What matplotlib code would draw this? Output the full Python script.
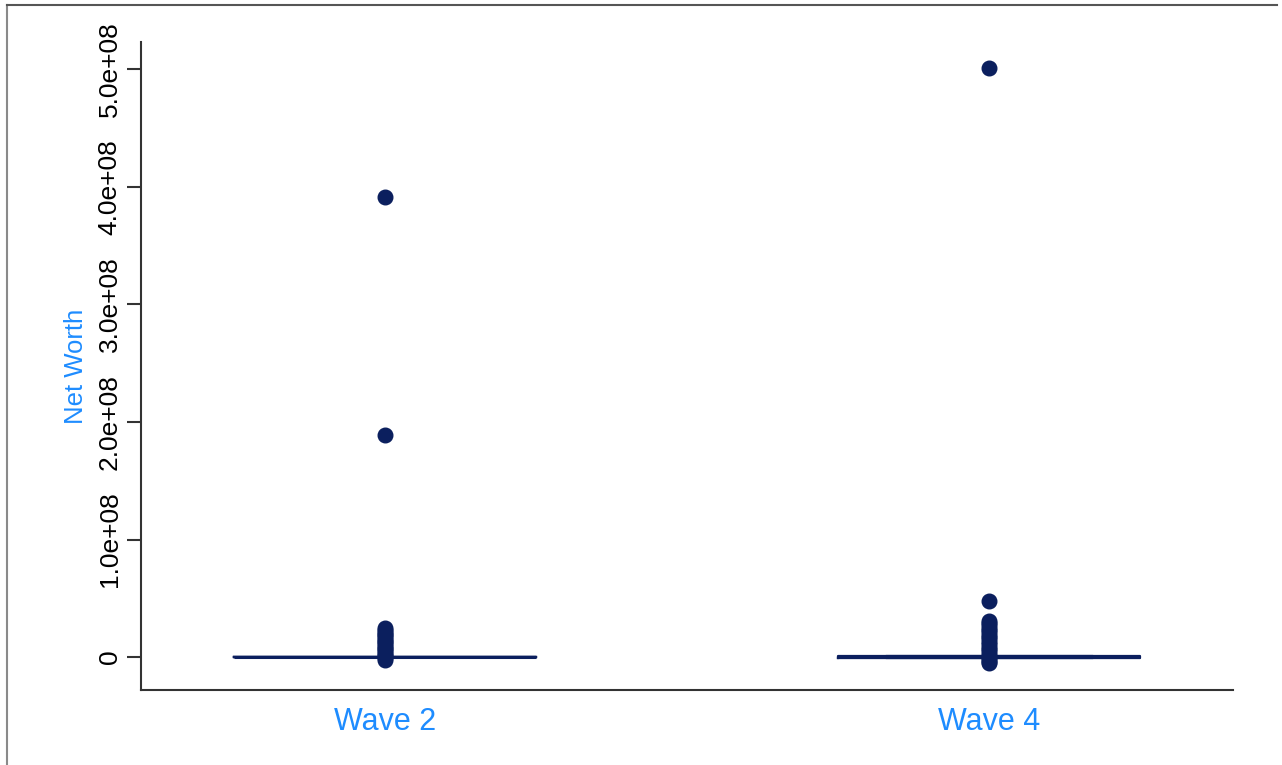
import matplotlib.pyplot as plt
from matplotlib.lines import Line2D

plt.rcParams['font.family'] = ['Liberation Sans', 'DejaVu Sans']

# Net worth box plots by survey wave
waves = ["Wave 2", "Wave 4"]
medians = [0.0, 0.0]
q1 = [-2.0e5, -6.0e5]
q3 = [2.0e5, 6.0e5]
whisker_lo = [-3.0e5, -9.0e5]
whisker_hi = [3.0e5, 9.0e5]

# outside values
outliers_w2 = [3.91e8, 1.885e8,
               2.45e7, 2.3e7, 2.15e7, 2.0e7, 1.85e7, 1.7e7, 1.55e7, 1.4e7,
               1.25e7, 1.1e7, 9.5e6, 8.0e6, 6.5e6, 5.0e6, 3.5e6, 2.0e6,
               1.0e6, -1.0e6, -2.5e6]
outliers_w4 = [5.01e8, 4.75e7,
               3.1e7, 2.9e7, 2.7e7, 2.5e7, 2.3e7, 2.1e7, 1.9e7, 1.7e7,
               1.5e7, 1.3e7, 1.1e7, 9.0e6, 7.0e6, 5.0e6, 3.0e6, 1.0e6,
               -1.0e6, -2.5e6, -4.0e6, -5.0e6]

yticks = [0, 1e8, 2e8, 3e8, 4e8, 5e8]
ytick_labels = ["0", "1.0e+08", "2.0e+08", "3.0e+08", "4.0e+08", "5.0e+08"]

navy = "#0b1f5e"
blue = "#1e8cff"

stats = []
fliers = [outliers_w2, outliers_w4]
for i, name in enumerate(waves):
    stats.append(dict(label=name, med=medians[i], q1=q1[i], q3=q3[i],
                      whislo=whisker_lo[i], whishi=whisker_hi[i],
                      fliers=fliers[i]))

fig = plt.figure(figsize=(12.82, 7.65), dpi=100)
ax = fig.add_axes([0.110, 0.098, 0.852, 0.847])

ax.bxp(stats, positions=[1, 2], widths=0.5, showcaps=True, capwidths=[0.5, 0.34],
       boxprops=dict(color=navy, linewidth=1.6),
       medianprops=dict(color=navy, linewidth=2.2),
       whiskerprops=dict(color=navy, linewidth=1.6),
       capprops=dict(color=navy, linewidth=1.6),
       flierprops=dict(marker='o', markerfacecolor=navy, markeredgecolor=navy,
                       markersize=10.5, linestyle='none'))

ax.set_xlim(0.596, 2.404)
ax.set_ylim(-0.28e8, 5.23e8)

ax.set_yticks(yticks)
ax.set_yticklabels(ytick_labels, rotation=90, va='center', fontsize=19)
ax.tick_params(axis='y', length=10, width=1.5, color='#333333', pad=4)
ax.tick_params(axis='x', length=0, pad=12, labelsize=22, labelcolor=blue)

ax.set_ylabel("Net Worth", color=blue, fontsize=18.5, labelpad=7)

for side in ['top', 'right']:
    ax.spines[side].set_visible(False)
for side in ['left', 'bottom']:
    ax.spines[side].set_color('#333333')
    ax.spines[side].set_linewidth(1.5)

# outer frame lines on the figure
fig.add_artist(Line2D([7 / 1282, 7 / 1282], [0, 1 - 5 / 765],
                      transform=fig.transFigure, color='#8a8a8a', linewidth=1.5))
fig.add_artist(Line2D([7 / 1282, 1277 / 1282], [1 - 5 / 765, 1 - 5 / 765],
                      transform=fig.transFigure, color='#555555', linewidth=1.5))

fig.savefig("out.png", dpi=100)
